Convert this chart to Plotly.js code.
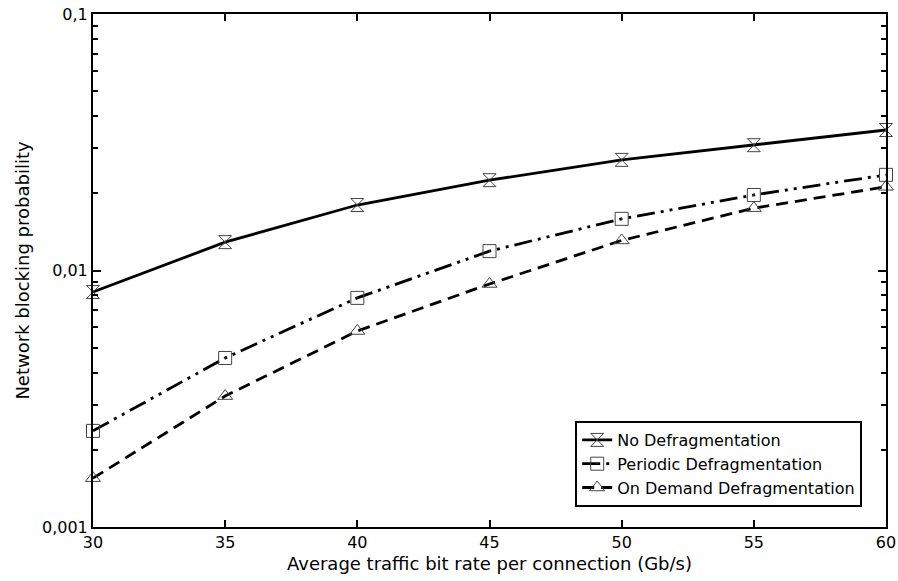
<!DOCTYPE html>
<html>
<head>
<meta charset="utf-8">
<script src="https://cdn.plot.ly/plotly-3.0.1.min.js"></script>
<style>html,body{margin:0;padding:0;background:#fff;}#chart{width:898px;height:581px;}</style>
</head>
<body>
<div id="chart"></div>
<script>
// Average traffic bit rate per connection (Gb/s)
const bitRates = [30, 35, 40, 45, 50, 55, 60];

// Network blocking probability per defragmentation strategy
const noDefrag       = [0.00824, 0.0129, 0.0180, 0.0225, 0.0270, 0.0308, 0.0353];
const periodicDefrag = [0.00237, 0.00456, 0.00782, 0.0119, 0.0159, 0.0197, 0.0236];
const onDemandDefrag = [0.00155, 0.00324, 0.00581, 0.00886, 0.0131, 0.0175, 0.0212];

const seriesNames = ['No Defragmentation', 'Periodic Defragmentation', 'On Demand Defragmentation'];

// Axis ticks
const xTicks = [30, 35, 40, 45, 50, 55, 60];
const yMajorTicks = [0.001, 0.01, 0.1];
const yMajorLabels = ['0,001', '0,01', '0,1'];
const yMinorTicks = [0.002, 0.003, 0.004, 0.005, 0.006, 0.007, 0.008, 0.009,
                     0.02, 0.03, 0.04, 0.05, 0.06, 0.07, 0.08, 0.09];

const FONT = 'Verdana, "DejaVu Sans", sans-serif';

function trace(y, name, dash, symbol) {
  return {
    x: bitRates, y: y, name: name, type: 'scatter', mode: 'lines+markers',
    line: {color: '#000', width: 2.8, dash: dash},
    marker: {symbol: symbol, size: 13, color: '#444', line: {color: '#444', width: 1}},
    cliponaxis: false
  };
}

const data = [
  trace(noDefrag, seriesNames[0], 'solid', 'hourglass-open'),
  trace(periodicDefrag, seriesNames[1], '18px,6px,3px,6px,3px,6px', 'square-open-dot'),
  trace(onDemandDefrag, seriesNames[2], '12px,7px', 'triangle-up-open')
];

const layout = {
  width: 898, height: 581,
  margin: {l: 93, r: 12, t: 14, b: 54},
  paper_bgcolor: '#fff', plot_bgcolor: '#fff',
  font: {family: FONT, size: 16, color: '#000'},
  showlegend: true,
  legend: {
    x: 0.970, y: 0.039, xanchor: 'right', yanchor: 'bottom',
    bgcolor: '#fff', bordercolor: '#000', borderwidth: 2,
    font: {family: FONT, size: 16, color: '#000'},
    tracegroupgap: 0
  },
  xaxis: {
    range: [30, 60], tickmode: 'array', tickvals: xTicks,
    ticks: 'inside', ticklen: 7, tickwidth: 2, tickcolor: '#000',
    showline: true, linewidth: 2, linecolor: '#000', mirror: 'ticks',
    showgrid: false, zeroline: false,
    tickfont: {family: FONT, size: 16},
    title: {text: 'Average traffic bit rate per connection (Gb/s)', font: {family: FONT, size: 18}, standoff: 6}
  },
  yaxis: {
    type: 'log', range: [-3, -1],
    tickmode: 'array', tickvals: yMajorTicks, ticktext: yMajorLabels,
    ticks: 'inside', ticklen: 8, tickwidth: 2, tickcolor: '#000',
    minor: {tickmode: 'array', tickvals: yMinorTicks, ticks: 'inside', ticklen: 5, tickwidth: 2, tickcolor: '#000', showgrid: false},
    showline: true, linewidth: 2, linecolor: '#000', mirror: 'ticks',
    showgrid: false, zeroline: false,
    tickfont: {family: FONT, size: 16},
    title: {text: 'Network blocking probability', font: {family: FONT, size: 18}, standoff: 8}
  }
};

Plotly.newPlot('chart', data, layout, {displayModeBar: false, staticPlot: true});
</script>
</body>
</html>
